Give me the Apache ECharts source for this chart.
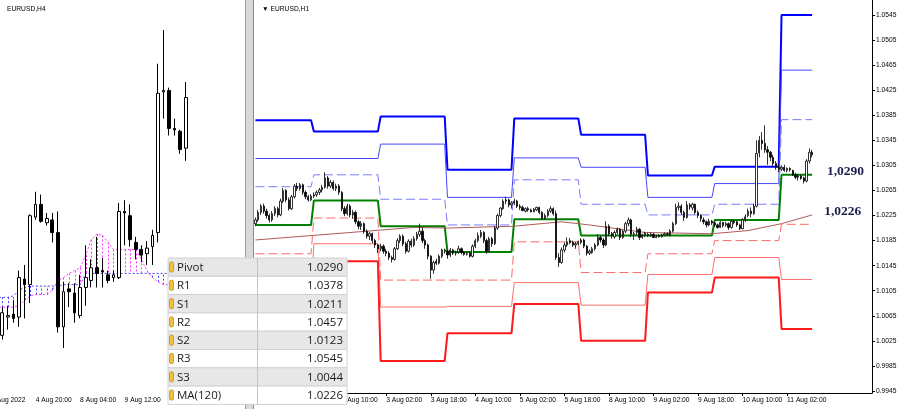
<!DOCTYPE html>
<html><head><meta charset="utf-8">
<script src="https://cdn.jsdelivr.net/npm/echarts@6/dist/echarts.min.js"></script>
<style>html,body{margin:0;padding:0;background:#fff}#c{width:900px;height:409px}</style>
</head><body><div id="c"></div>
<script>
// ================= RIGHT PANEL : EURUSD,H1 =================
const h1Days      = ['1 Aug','2 Aug','3 Aug','4 Aug','5 Aug','8 Aug','9 Aug','10 Aug','11 Aug'];
const h1FirstHour = [3,0,0,0,0,0,0,0,0];
const h1LastHour  = [23,23,23,23,23,23,23,23,11];
// rows: [open, close, low, high]
const h1Aug01 = [[1.0212,1.0218,1.0208,1.0222],[1.0218,1.0230,1.0215,1.0234],[1.0230,1.0240,1.0226,1.0243],[1.0240,1.0232,1.0228,1.0244],[1.0232,1.0225,1.0220,1.0236],[1.0225,1.0218,1.0214,1.0228],[1.0218,1.0228,1.0215,1.0232],[1.0228,1.0236,1.0224,1.0240],[1.0236,1.0226,1.0222,1.0239],[1.0226,1.0248,1.0224,1.0252],[1.0248,1.0265,1.0245,1.0269],[1.0265,1.0250,1.0246,1.0267],[1.0250,1.0236,1.0233,1.0254],[1.0236,1.0255,1.0234,1.0258],[1.0255,1.0272,1.0252,1.0275],[1.0272,1.0268,1.0264,1.0277],[1.0268,1.0274,1.0265,1.0277],[1.0274,1.0262,1.0258,1.0276],[1.0262,1.0255,1.0251,1.0265],[1.0255,1.0250,1.0247,1.0258],[1.0250,1.0256,1.0248,1.0259]];
const h1Aug02 = [[1.0256,1.0258,1.0253,1.0262],[1.0258,1.0262,1.0255,1.0265],[1.0262,1.0266,1.0258,1.0269],[1.0266,1.0270,1.0262,1.0274],[1.0270,1.0285,1.0268,1.0294],[1.0285,1.0272,1.0268,1.0288],[1.0272,1.0278,1.0269,1.0282],[1.0278,1.0268,1.0265,1.0281],[1.0268,1.0272,1.0264,1.0276],[1.0272,1.0262,1.0258,1.0275],[1.0262,1.0236,1.0232,1.0264],[1.0236,1.0228,1.0224,1.0240],[1.0228,1.0240,1.0225,1.0244],[1.0240,1.0226,1.0222,1.0243],[1.0226,1.0230,1.0220,1.0234],[1.0230,1.0215,1.0211,1.0233],[1.0215,1.0208,1.0203,1.0218],[1.0208,1.0212,1.0202,1.0216],[1.0212,1.0200,1.0196,1.0214],[1.0200,1.0192,1.0188,1.0203],[1.0192,1.0196,1.0186,1.0199],[1.0196,1.0185,1.0181,1.0198],[1.0185,1.0178,1.0173,1.0188],[1.0178,1.0172,1.0165,1.0180]];
const h1Aug03 = [[1.0172,1.0176,1.0168,1.0180],[1.0176,1.0168,1.0164,1.0179],[1.0168,1.0165,1.0160,1.0172],[1.0165,1.0158,1.0154,1.0168],[1.0158,1.0155,1.0150,1.0161],[1.0155,1.0172,1.0153,1.0175],[1.0172,1.0185,1.0170,1.0189],[1.0185,1.0192,1.0181,1.0195],[1.0192,1.0180,1.0176,1.0195],[1.0180,1.0168,1.0164,1.0183],[1.0168,1.0184,1.0166,1.0187],[1.0184,1.0178,1.0174,1.0188],[1.0178,1.0188,1.0175,1.0192],[1.0188,1.0195,1.0185,1.0199],[1.0195,1.0200,1.0191,1.0212],[1.0200,1.0185,1.0181,1.0206],[1.0185,1.0178,1.0172,1.0188],[1.0178,1.0160,1.0155,1.0180],[1.0160,1.0138,1.0124,1.0162],[1.0138,1.0150,1.0132,1.0153],[1.0152,1.0149,1.0146,1.0156],[1.0149,1.0160,1.0147,1.0163],[1.0160,1.0170,1.0157,1.0172],[1.0170,1.0168,1.0164,1.0172]];
const h1Aug04 = [[1.0168,1.0162,1.0156,1.0170],[1.0162,1.0170,1.0159,1.0173],[1.0170,1.0165,1.0162,1.0172],[1.0165,1.0166,1.0161,1.0169],[1.0167,1.0172,1.0164,1.0177],[1.0172,1.0166,1.0163,1.0174],[1.0166,1.0163,1.0161,1.0168],[1.0163,1.0164,1.0161,1.0167],[1.0165,1.0160,1.0158,1.0168],[1.0160,1.0176,1.0158,1.0179],[1.0176,1.0185,1.0173,1.0188],[1.0185,1.0193,1.0182,1.0198],[1.0192,1.0198,1.0189,1.0202],[1.0198,1.0185,1.0181,1.0200],[1.0185,1.0168,1.0164,1.0188],[1.0168,1.0188,1.0166,1.0191],[1.0188,1.0180,1.0175,1.0191],[1.0180,1.0205,1.0178,1.0208],[1.0205,1.0225,1.0202,1.0228],[1.0225,1.0237,1.0222,1.0238],[1.0236,1.0248,1.0234,1.0251],[1.0248,1.0250,1.0243,1.0255],[1.0250,1.0242,1.0238,1.0252],[1.0242,1.0245,1.0236,1.0248]];
const h1Aug05 = [[1.0245,1.0248,1.0242,1.0252],[1.0248,1.0240,1.0237,1.0250],[1.0240,1.0238,1.0234,1.0243],[1.0238,1.0233,1.0232,1.0241],[1.0232,1.0236,1.0230,1.0238],[1.0236,1.0234,1.0231,1.0239],[1.0234,1.0231,1.0230,1.0236],[1.0231,1.0235,1.0230,1.0237],[1.0234,1.0238,1.0232,1.0239],[1.0238,1.0230,1.0227,1.0239],[1.0230,1.0220,1.0218,1.0232],[1.0220,1.0225,1.0218,1.0228],[1.0225,1.0232,1.0222,1.0235],[1.0232,1.0236,1.0229,1.0240],[1.0236,1.0228,1.0225,1.0238],[1.0228,1.0158,1.0154,1.0233],[1.0158,1.0150,1.0143,1.0165],[1.0150,1.0170,1.0148,1.0174],[1.0170,1.0178,1.0166,1.0182],[1.0178,1.0183,1.0175,1.0190],[1.0185,1.0182,1.0179,1.0189],[1.0182,1.0178,1.0175,1.0185],[1.0178,1.0180,1.0172,1.0183],[1.0180,1.0183,1.0177,1.0185]];
const h1Aug08 = [[1.0182,1.0186,1.0179,1.0189],[1.0186,1.0176,1.0173,1.0188],[1.0176,1.0165,1.0161,1.0178],[1.0165,1.0168,1.0162,1.0171],[1.0166,1.0172,1.0164,1.0175],[1.0172,1.0178,1.0169,1.0181],[1.0178,1.0190,1.0176,1.0195],[1.0190,1.0186,1.0182,1.0193],[1.0186,1.0178,1.0173,1.0189],[1.0178,1.0208,1.0176,1.0216],[1.0208,1.0196,1.0192,1.0211],[1.0196,1.0193,1.0188,1.0199],[1.0191,1.0198,1.0188,1.0201],[1.0198,1.0203,1.0195,1.0206],[1.0203,1.0190,1.0186,1.0205],[1.0190,1.0200,1.0188,1.0202],[1.0200,1.0212,1.0197,1.0215],[1.0212,1.0218,1.0208,1.0222],[1.0218,1.0195,1.0191,1.0220],[1.0195,1.0196,1.0186,1.0199],[1.0198,1.0203,1.0194,1.0207],[1.0203,1.0190,1.0186,1.0205],[1.0190,1.0194,1.0188,1.0196],[1.0194,1.0197,1.0191,1.0199]];
const h1Aug09 = [[1.0195,1.0193,1.0191,1.0197],[1.0193,1.0195,1.0191,1.0198],[1.0195,1.0190,1.0189,1.0197],[1.0190,1.0191,1.0189,1.0194],[1.0193,1.0191,1.0190,1.0195],[1.0191,1.0194,1.0190,1.0196],[1.0194,1.0196,1.0192,1.0198],[1.0196,1.0195,1.0193,1.0198],[1.0193,1.0200,1.0192,1.0203],[1.0200,1.0212,1.0198,1.0215],[1.0212,1.0238,1.0210,1.0244],[1.0238,1.0240,1.0233,1.0246],[1.0240,1.0230,1.0226,1.0243],[1.0230,1.0222,1.0216,1.0233],[1.0222,1.0242,1.0220,1.0248],[1.0242,1.0239,1.0234,1.0245],[1.0237,1.0243,1.0233,1.0245],[1.0243,1.0230,1.0227,1.0244],[1.0230,1.0225,1.0221,1.0233],[1.0225,1.0220,1.0215,1.0227],[1.0218,1.0215,1.0211,1.0222],[1.0215,1.0210,1.0206,1.0217],[1.0210,1.0216,1.0208,1.0220],[1.0216,1.0213,1.0210,1.0218]];
const h1Aug10 = [[1.0213,1.0210,1.0207,1.0215],[1.0210,1.0206,1.0204,1.0212],[1.0206,1.0214,1.0205,1.0216],[1.0214,1.0209,1.0206,1.0215],[1.0210,1.0212,1.0207,1.0215],[1.0212,1.0206,1.0202,1.0214],[1.0206,1.0216,1.0204,1.0219],[1.0216,1.0214,1.0211,1.0218],[1.0215,1.0210,1.0207,1.0217],[1.0210,1.0204,1.0202,1.0212],[1.0204,1.0218,1.0203,1.0221],[1.0218,1.0223,1.0215,1.0227],[1.0225,1.0232,1.0222,1.0236],[1.0232,1.0228,1.0222,1.0238],[1.0228,1.0240,1.0226,1.0244],[1.0240,1.0324,1.0238,1.0345],[1.0325,1.0345,1.0318,1.0352],[1.0345,1.0340,1.0330,1.0358],[1.0340,1.0330,1.0325,1.0369],[1.0330,1.0326,1.0306,1.0336],[1.0326,1.0318,1.0312,1.0328],[1.0318,1.0308,1.0304,1.0322],[1.0308,1.0302,1.0298,1.0312],[1.0302,1.0299,1.0294,1.0306]];
const h1Aug11 = [[1.0299,1.0302,1.0296,1.0305],[1.0302,1.0297,1.0295,1.0306],[1.0297,1.0300,1.0294,1.0302],[1.0300,1.0298,1.0295,1.0302],[1.0297,1.0290,1.0288,1.0298],[1.0290,1.0286,1.0283,1.0293],[1.0286,1.0288,1.0281,1.0290],[1.0288,1.0284,1.0282,1.0290],[1.0285,1.0280,1.0276,1.0287],[1.0280,1.0312,1.0278,1.0315],[1.0312,1.0326,1.0308,1.0332],[1.0326,1.0322,1.0318,1.0330]];

// daily pivot levels (one value per day in h1Days)
const r3     = [1.0377,1.0359,1.0383,1.0298,1.0380,1.0354,1.0289,1.0303,1.0545];
const r2     = [1.0316,1.0316,1.0339,1.0254,1.0317,1.0302,1.0254,1.0276,1.0457];
const r1     = [1.0271,1.0290,1.0251,1.0210,1.0282,1.0243,1.0226,1.0243,1.0378];
const pivotP = [1.0210,1.0249,1.0208,1.0167,1.0219,1.0193,1.0193,1.0218,1.0290];
const s1     = [1.0164,1.0221,1.0122,1.0122,1.0183,1.0134,1.0164,1.0185,1.0211];
const s2     = [1.0103,1.0180,1.0079,1.0080,1.0118,1.0082,1.0131,1.0158,1.0123];
const s3     = [1.0057,1.0152,0.9993,1.0037,1.0084,1.0025,1.0102,1.0126,1.0044];
// MA(120) read at bar positions
const maBar = [0,57,69,93,110,120,140,164,177,189,200];
const maVal = [1.0186,1.0206,1.0205,1.0208,1.0215,1.0210,1.0198,1.0196,1.0201,1.0212,1.0226];

const yTickValues = [0.9945,0.9985,1.0025,1.0065,1.0105,1.0145,1.0185,1.0225,1.0265,1.0305,1.0345,1.0385,1.0425,1.0465,1.0505,1.0545];
const h1YMin = 0.994181, h1YMax = 1.056894;
const h1Slots = 222;
const h1LabelFirst = 31, h1LabelStep = 16, h1LabelLast = 191;

// ================= LEFT PANEL : EURUSD,H4 =================
const h4Days      = ['3 Aug','4 Aug','5 Aug','8 Aug','9 Aug','10 Aug','11 Aug'];
const h4FirstHour = [12,0,0,0,0,0,0];
const h4LastHour  = [20,20,20,20,20,20,8];
const h4FirstCandle = '3 Aug 20:00';
const h4Candles = [[1.0152,1.0168,1.0149,1.0172],[1.0165,1.0166,1.0156,1.0173],[1.0167,1.0164,1.0161,1.0177],[1.0165,1.0193,1.0158,1.0198],[1.0192,1.0188,1.0164,1.0202],[1.0188,1.0237,1.0175,1.0238],[1.0236,1.0245,1.0234,1.0254],[1.0245,1.0233,1.0232,1.0252],[1.0232,1.0235,1.0230,1.0239],[1.0234,1.0225,1.0218,1.0239],[1.0225,1.0158,1.0154,1.0240],[1.0158,1.0183,1.0143,1.0190],[1.0185,1.0183,1.0172,1.0189],[1.0182,1.0168,1.0161,1.0189],[1.0166,1.0186,1.0164,1.0195],[1.0186,1.0193,1.0173,1.0216],[1.0191,1.0200,1.0186,1.0206],[1.0200,1.0196,1.0186,1.0222],[1.0198,1.0197,1.0186,1.0207],[1.0195,1.0191,1.0189,1.0198],[1.0193,1.0195,1.0190,1.0198],[1.0193,1.0240,1.0192,1.0246],[1.0240,1.0239,1.0216,1.0248],[1.0237,1.0220,1.0215,1.0245],[1.0218,1.0213,1.0206,1.0222],[1.0213,1.0209,1.0204,1.0216],[1.0210,1.0214,1.0202,1.0219],[1.0215,1.0223,1.0202,1.0227],[1.0225,1.0324,1.0218,1.0345],[1.0325,1.0326,1.0306,1.0369],[1.0326,1.0299,1.0294,1.0328],[1.0299,1.0298,1.0294,1.0306],[1.0297,1.0284,1.0281,1.0298],[1.0285,1.0321,1.0276,1.0332]];
// cloud lines, from the first H4 slot
const cloudA = [1.0172,1.0172,1.0172,1.0172,1.0172,1.0173,1.0177,1.0180,1.0181,1.0181,1.0181,1.0184,1.0191,1.0193,1.0196,1.0198,1.0200,1.0209,1.0220,1.0224,1.0223,1.0218,1.0213,1.0213,1.0213,1.0213,1.0213,1.0206,1.0198,1.0193,1.0190,1.0188,1.0188];
const cloudB = [1.0179,1.0179,1.0179,1.0179,1.0180,1.0184,1.0186,1.0187,1.0187,1.0187,1.0187,1.0187,1.0187,1.0188,1.0188,1.0188,1.0188,1.0196,1.0196,1.0196,1.0196,1.0196,1.0196,1.0196,1.0196,1.0196,1.0196,1.0196,1.0196,1.0196,1.0196,1.0196,1.0196];
const h4TickTimes = ['3 Aug 12:00','4 Aug 20:00','8 Aug 04:00','9 Aug 12:00','10 Aug 20:00'];
const h4TickText  = ['3 Aug 2022','4 Aug 20:00','8 Aug 04:00','9 Aug 12:00','10 Aug 20:00'];
const h4YMin = 1.01110, h4YMax = 1.03903;
const h4Slots = 46;

// ================= TABLE =================
const tableNames = ['Pivot','R1','S1','R2','S2','R3','S3','MA(120)'];

// ---------- build ----------
function buildCats(days, first, last, step) {
  const cats = [], ranges = [];
  days.forEach((d, k) => {
    const s = cats.length;
    for (let h = first[k]; h <= last[k]; h += step) cats.push(d + ' ' + String(h).padStart(2, '0') + ':00');
    ranges.push([s, cats.length - 1]);
  });
  return { cats, ranges };
}
const H1 = buildCats(h1Days, h1FirstHour, h1LastHour, 1);
const h1Cats = H1.cats.slice(); while (h1Cats.length < h1Slots) h1Cats.push('');
const h1Data = [].concat(h1Aug01, h1Aug02, h1Aug03, h1Aug04, h1Aug05, h1Aug08, h1Aug09, h1Aug10, h1Aug11);
const H4 = buildCats(h4Days, h4FirstHour, h4LastHour, 4);
const h4Cats = H4.cats.slice(); while (h4Cats.length < h4Slots) h4Cats.push('');
const h4Off = h4Cats.indexOf(h4FirstCandle);
const h4Data = h4Cats.map((c, i) => (i >= h4Off && i - h4Off < h4Candles.length) ? h4Candles[i - h4Off] : '-');
const h4TickIdx = h4TickTimes.map(t => h4Cats.indexOf(t));

function levelLine(vals) {
  const out = [];
  vals.forEach((v, k) => { out.push([H1.ranges[k][0], v]); out.push([H1.ranges[k][1], v]); });
  return out;
}
const last = a => a[a.length - 1];
const lastClose = last(h1Data)[1];
const isH1Tick = i => i >= h1LabelFirst && i <= h1LabelLast && (i - h1LabelFirst) % h1LabelStep === 0;
const SMALL = 'Liberation Sans';

function lvl(name, vals, color, width, type, extra) {
  return Object.assign({
    name, type: 'line', xAxisIndex: 0, yAxisIndex: 0, data: levelLine(vals),
    symbol: 'none', showSymbol: false, silent: true, z: 2,
    lineStyle: { color, width, type: type || 'solid' }
  }, extra || {});
}
function annot(val, idx) {
  return {
    symbol: 'circle', symbolSize: 1, itemStyle: { color: 'rgba(0,0,0,0)' }, silent: true,
    data: [{ coord: [idx, val], value: val }],
    label: { show: true, position: 'inside', offset: [0, -3],
      formatter: p => p.value.toFixed(4).replace('.', ','),
      fontFamily: 'Liberation Serif', fontWeight: 'bold', fontSize: 13.5, color: '#1d1d4e' }
  };
}

// table graphics
const tableVals = [last(pivotP), last(r1), last(s1), last(r2), last(s2), last(r3), last(s3), last(maVal)];
const T = { x: 168, y: 258, w: 179, col: 257, rowH: 18.3 };
const gfx = [];
gfx.push({ type: 'rect', shape: { x: 245, y: 0, width: 9, height: 409 }, style: { fill: '#d9d9d9' }, z: 90 });
gfx.push({ type: 'line', shape: { x1: 245.5, y1: 0, x2: 245.5, y2: 409 }, style: { stroke: '#a0a0a0', lineWidth: 1 }, z: 91 });
gfx.push({ type: 'line', shape: { x1: 253.5, y1: 0, x2: 253.5, y2: 409 }, style: { stroke: '#8a8a8a', lineWidth: 1 }, z: 91 });
tableNames.forEach((n, k) => {
  const y = T.y + k * T.rowH;
  gfx.push({ type: 'rect', shape: { x: T.x, y: y, width: T.w, height: T.rowH }, style: { fill: k % 2 === 0 ? '#e7e7e7' : '#ffffff', stroke: '#d2d2d2', lineWidth: 1 }, z: 100 });
  gfx.push({ type: 'rect', shape: { x: T.x + 1.5, y: y + 4, width: 4, height: 10, r: 1.5 }, style: { fill: '#f0c040', stroke: '#b58a10', lineWidth: 0.7 }, z: 101 });
  gfx.push({ type: 'text', x: T.x + 9, y: y + T.rowH / 2 + 0.5, style: { text: n, fill: '#1a1a1a', font: '11.5px "Open Sans"', verticalAlign: 'middle' }, z: 101 });
  gfx.push({ type: 'text', x: T.x + T.w - 4, y: y + T.rowH / 2 + 0.5, style: { text: tableVals[k].toFixed(4), fill: '#1a1a1a', font: '11.5px "Open Sans"', align: 'right', verticalAlign: 'middle' }, z: 101 });
});
gfx.push({ type: 'line', shape: { x1: T.col + 0.5, y1: T.y, x2: T.col + 0.5, y2: T.y + 8 * T.rowH }, style: { stroke: '#c4c4c4', lineWidth: 1 }, z: 102 });

const option = {
  animation: false,
  backgroundColor: '#ffffff',
  title: [
    { text: 'EURUSD,H4', left: 2, top: 1, textStyle: { fontFamily: SMALL, fontSize: 6.7, fontWeight: 'normal', color: '#000' } },
    { text: '▼ EURUSD,H1', left: 257, top: 1, textStyle: { fontFamily: SMALL, fontSize: 6.7, fontWeight: 'normal', color: '#000' } }
  ],
  grid: [
    { left: 254, right: 28, top: 0, bottom: 16, outerBoundsMode: 'none', containLabel: false },
    { left: -11.6, width: 255.7, top: 0, bottom: 16, outerBoundsMode: 'none', containLabel: false }
  ],
  xAxis: [
    { type: 'category', gridIndex: 0, data: h1Cats, boundaryGap: true,
      axisLine: { show: true, lineStyle: { color: '#000', width: 1 } },
      axisTick: { show: true, alignWithLabel: true, interval: isH1Tick, length: 3, lineStyle: { color: '#000' } },
      axisLabel: { interval: isH1Tick, align: 'left', fontFamily: SMALL, fontSize: 6.7, color: '#000', margin: 4 },
      splitLine: { show: false } },
    { type: 'category', gridIndex: 1, data: h4Cats, boundaryGap: true,
      axisLine: { show: false }, axisTick: { show: false },
      axisLabel: { interval: i => h4TickIdx.includes(i), formatter: (v, i) => h4TickText[h4TickIdx.indexOf(i)],
        align: 'left', fontFamily: SMALL, fontSize: 6.7, color: '#000', margin: 4 },
      splitLine: { show: false } }
  ],
  yAxis: [
    { type: 'value', gridIndex: 0, position: 'right', min: h1YMin, max: h1YMax, scale: true,
      splitLine: { show: false },
      axisLine: { show: true, lineStyle: { color: '#000', width: 1 } },
      axisTick: { show: true, inside: false, length: 3, customValues: yTickValues, lineStyle: { color: '#000' } },
      axisLabel: { customValues: yTickValues, formatter: v => v.toFixed(4), fontFamily: SMALL, fontSize: 6.7, color: '#000', margin: 4 } },
    { type: 'value', gridIndex: 1, min: h4YMin, max: h4YMax, scale: true, show: false, splitLine: { show: false } }
  ],
  graphic: gfx,
  series: [
    lvl('R3', r3, '#0000ff', 2),
    lvl('R2', r2, '#4646ff', 1),
    lvl('R1', r1, '#7b7bff', 1, [9, 4]),
    lvl('Pivot', pivotP, '#008000', 2, null, { markPoint: annot(last(pivotP), 212) }),
    lvl('S1', s1, '#ff6a6a', 1, [9, 4]),
    lvl('S2', s2, '#ff6f6f', 1),
    lvl('S3', s3, '#ff1a1a', 2),
    { name: 'MA(120)', type: 'line', xAxisIndex: 0, yAxisIndex: 0, data: maBar.map((b, k) => [b, maVal[k]]),
      symbol: 'none', showSymbol: false, silent: true, z: 2, lineStyle: { color: '#b05a5a', width: 1 },
      markPoint: annot(last(maVal), 211) },
    { name: 'H1', type: 'candlestick', xAxisIndex: 0, yAxisIndex: 0, data: h1Data, z: 5,
      barWidth: 1.8,
      itemStyle: { color: '#ffffff', color0: '#000000', borderColor: '#000000', borderColor0: '#000000', borderWidth: 0.8 },
      markLine: { silent: true, symbol: ['none', 'none'], data: [{ yAxis: lastClose }], lineStyle: { opacity: 0 },
        label: { show: true, position: 'end', distance: 2, formatter: p => p.value.toFixed(4),
          backgroundColor: '#000', color: '#fff', fontFamily: SMALL, fontSize: 6.7, padding: [1, 2, 1, 2] } } },
    // left panel
    { name: 'cloud hatch', type: 'custom', xAxisIndex: 1, yAxisIndex: 1, silent: true, z: 1,
      data: cloudA.map((a, i) => [i, a, cloudB[i]]),
      encode: { x: 0, y: [1, 2] },
      renderItem: (params, api) => {
        const i = api.value(0), a = api.value(1), b = api.value(2);
        const p1 = api.coord([i, a]), p2 = api.coord([i, b]);
        return { type: 'line', shape: { x1: Math.round(p1[0]) + 0.5, y1: p1[1], x2: Math.round(p2[0]) + 0.5, y2: p2[1] },
          style: { stroke: a > b ? '#ff33ff' : '#4444ff', lineWidth: 1, lineDash: [2, 2] } };
      } },
    { name: 'Span A', type: 'line', xAxisIndex: 1, yAxisIndex: 1, data: cloudA, symbol: 'none', silent: true, z: 2,
      lineStyle: { color: '#ff33ff', width: 1, type: [2, 2] } },
    { name: 'Span B', type: 'line', xAxisIndex: 1, yAxisIndex: 1, data: cloudB, symbol: 'none', silent: true, z: 2,
      lineStyle: { color: '#4444ff', width: 1, type: [2, 2] } },
    { name: 'H4', type: 'candlestick', xAxisIndex: 1, yAxisIndex: 1, data: h4Data, z: 5,
      barWidth: 3.2,
      itemStyle: { color: '#ffffff', color0: '#000000', borderColor: '#000000', borderColor0: '#000000', borderWidth: 1 } }
  ]
};
const chart = echarts.init(document.getElementById('c'));
chart.setOption(option);
</script>
</body></html>
